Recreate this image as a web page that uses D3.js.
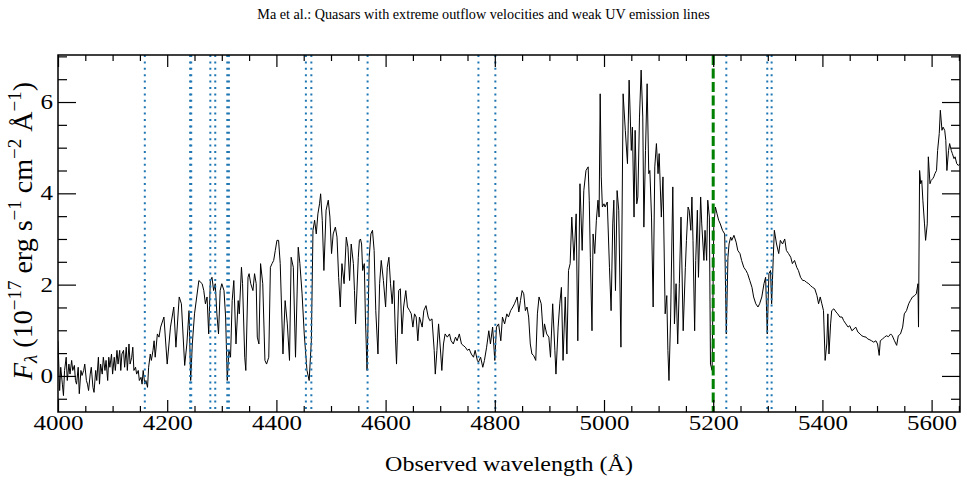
<!DOCTYPE html>
<html>
<head>
<meta charset="utf-8">
<script src="https://cdn.jsdelivr.net/npm/d3@7"></script>
<style>
  body { margin: 0; background: #fff; }
  svg text { font-family: "Liberation Serif", "Times New Roman", serif; fill: #000; }
</style>
</head>
<body>
<div id="spectrum"></div>
<script>
// observed wavelength (Angstrom) and flux (1e-17 erg/s/cm2/A)
const wavelength = [
  4000, 4003, 4005, 4008, 4010, 4012, 4015, 4017, 4020, 4022, 4025, 4027, 4030, 4032, 4034, 4037, 4039, 4042, 4044, 4047,
  4049, 4052, 4054, 4056, 4059, 4061, 4064, 4066, 4069, 4071, 4074, 4076, 4078, 4081, 4083, 4086, 4088, 4091, 4093, 4095,
  4098, 4100, 4103, 4105, 4108, 4110, 4113, 4115, 4117, 4120, 4122, 4125, 4127, 4130, 4132, 4135, 4137, 4139, 4142, 4144,
  4147, 4149, 4152, 4154, 4156, 4159, 4161, 4164, 4166, 4169, 4171, 4174, 4176, 4178, 4182, 4185, 4188, 4194, 4200, 4206,
  4212, 4216, 4222, 4226, 4232, 4236, 4240, 4243, 4246, 4250, 4258, 4264, 4267,
  4270, 4273, 4276, 4279, 4282, 4285, 4288, 4291, 4294, 4297, 4300, 4304, 4307, 4310, 4313, 4316, 4319, 4322, 4326, 4330,
  4332, 4336, 4338, 4342, 4344, 4348, 4350, 4353, 4357, 4360, 4363, 4365, 4368, 4371, 4375, 4379, 4382, 4386, 4389, 4392,
  4395, 4398, 4401, 4404, 4407, 4412, 4416, 4420, 4424, 4427, 4431, 4435, 4440, 4443, 4447, 4451, 4456, 4460, 4464, 4467,
  4470, 4473, 4476, 4479, 4481, 4484, 4487, 4491, 4495, 4498, 4501, 4504, 4508, 4511, 4514, 4517, 4520, 4524, 4528, 4531,
  4534, 4537, 4541, 4543,
  4545, 4550, 4552, 4554, 4556, 4558, 4561, 4563, 4566, 4568, 4570, 4573, 4576, 4579, 4582, 4586, 4589, 4592, 4596, 4600,
  4603, 4606, 4609, 4612, 4615, 4618, 4620, 4624, 4627, 4630, 4633, 4637, 4640, 4644, 4647, 4650, 4653, 4656, 4659, 4662,
  4667, 4670, 4674, 4678, 4681, 4685, 4689, 4691, 4694, 4697, 4701, 4703, 4706, 4709, 4713, 4717, 4720, 4724, 4728, 4731,
  4735, 4739, 4742, 4746, 4750, 4753, 4757, 4761, 4764, 4768, 4770, 4774, 4778, 4781, 4785, 4789, 4792, 4796, 4800, 4803,
  4807, 4811, 4814, 4818, 4822, 4825, 4829, 4833, 4836,
  4841, 4844, 4847, 4850, 4853, 4856, 4859, 4862, 4865, 4868, 4871, 4875, 4878, 4881, 4885, 4889, 4891, 4895, 4899, 4902,
  4906, 4910, 4912, 4916, 4919, 4922, 4925, 4929, 4932, 4935, 4938, 4941, 4945, 4949, 4952, 4956, 4960, 4963, 4967, 4971,
  4973, 4975, 4978, 4980, 4983, 4986, 4989, 4991, 4993, 4995, 4997, 5000, 5002, 5006, 5010, 5013, 5016, 5018, 5021, 5024,
  5027, 5031, 5035, 5039, 5043, 5046, 5050, 5052, 5055, 5057, 5060, 5062, 5065, 5068, 5071, 5073, 5076, 5079, 5082, 5084,
  5087, 5090, 5093, 5096, 5099, 5101, 5105, 5108,
  5112, 5115, 5117, 5119, 5122, 5126, 5129, 5132, 5135, 5138, 5141, 5145, 5149, 5151, 5154, 5156, 5159, 5161, 5163, 5166,
  5168, 5171, 5173, 5177, 5179, 5183, 5185, 5188, 5190, 5193, 5195, 5198, 5201, 5204, 5207, 5210, 5213, 5217, 5221, 5224,
  5227, 5229, 5232, 5234, 5238, 5242, 5245, 5249, 5252, 5256, 5260, 5263, 5267, 5271, 5274, 5278, 5282, 5285, 5289, 5293,
  5296, 5299, 5302, 5305, 5307, 5310, 5312, 5316, 5320, 5323, 5327, 5331, 5334, 5338, 5342, 5345, 5349, 5353, 5356, 5360,
  5364, 5367, 5371, 5375, 5378, 5382, 5386,
  5390, 5393, 5396, 5399, 5402, 5405, 5408, 5410, 5412, 5415, 5417, 5421, 5425, 5428, 5432, 5436, 5439, 5443, 5447, 5450,
  5454, 5458, 5461, 5465, 5469, 5472, 5476, 5480, 5483, 5487, 5490, 5494, 5498, 5501, 5504, 5506, 5510, 5514, 5517, 5521,
  5525, 5528, 5532, 5536, 5539, 5543, 5547, 5550, 5554, 5558, 5561, 5565, 5569, 5572, 5575, 5576, 5578, 5580, 5582, 5584,
  5587, 5589, 5592, 5594, 5597, 5599, 5602, 5604, 5606, 5609, 5611, 5614, 5616, 5619, 5621, 5624, 5626, 5628, 5631, 5633,
  5636, 5638, 5641, 5643, 5646, 5649, 5652
];
const flux = [
  0.77, -0.32, 0.19, -0.18, -0.43, 0.12, 0.41, -0.10, 0.26, 0.04, 0.34, 0.12, 0.23, -0.10, -0.18, 0.19, -0.39, 0.12, 0.01, 0.12,
  0.26, -0.10, -0.18, -0.32, 0.04, 0.19, -0.25, -0.36, 0.12, -0.10, 0.41, -0.18, 0.26, 0.04, 0.41, 0.12, 0.34, -0.10, 0.41, 0.19,
  0.48, 0.04, 0.41, 0.12, 0.56, 0.26, 0.56, 0.12, 0.48, 0.56, 0.19, 0.63, 0.12, 0.70, 0.26, 0.41, 0.63, 0.12, 0.19, 0.04,
  0.12, -0.10, -0.03, -0.18, 0.12, -0.18, -0.10, -0.25, 0.19, 0.48, 0.34, 0.56, 0.77, 0.41, 0.92, 0.85, 1.07, 1.29, 0.26, 1.07,
  1.51, 0.63, 1.73, 1.58, 0.23, 0.70, 1.43, -0.10, 0.70, 1.36, 2.09, 2.02, 1.87,
  1.58, 1.73, 0.92, 2.09, 2.16, 1.87, 2.02, 1.36, 0.92, 1.87, 2.02, 1.87, 1.29, -0.10, 0.56, 0.41, 1.65, 2.09, 0.70, 1.65,
  1.36, 2.38, 2.02, 0.41, 0.12, 2.16, 2.24, 2.02, 1.87, 2.24, 2.02, 0.85, 0.70, 2.46, 2.02, 0.34, 0.26, 0.41, 2.38, 2.46,
  2.53, 2.75, 2.97, 2.97, 2.46, 0.48, 1.65, 1.14, 0.34, 2.60, 2.38, 0.41, 2.82, 2.46, 1.80, 0.92, 0.12, -0.10, 0.77, 3.19,
  3.41, 3.11, 3.55, 3.77, 3.99, 3.41, 2.31, 3.63, 3.85, 3.48, 2.68, 3.11, 3.26, 3.04, 2.16, 1.51, 2.46, 2.02, 3.04, 2.82,
  2.09, 2.89, 2.46, 1.87,
  1.14, 2.60, 2.97, 3.00, 2.89, 2.31, 2.46, 1.29, 0.12, 1.29, 2.60, 3.11, 3.19, 2.75, 1.43, 0.48, 2.02, 2.53, 2.09, 1.51,
  2.38, 2.60, 2.02, 1.58, 2.09, 0.85, 0.26, 1.87, 1.91, 0.92, 1.51, 1.87, 1.51, 1.43, 1.36, 1.07, 1.36, 1.29, 0.77, 1.29,
  1.07, 1.43, 1.54, 1.29, 1.21, 1.25, 0.56, 0.04, 0.56, 1.14, 0.48, 0.12, 0.70, 0.92, 0.85, 0.92, 0.77, 0.70, 0.85, 0.77,
  0.92, 0.70, 0.67, 0.63, 0.56, 0.59, 0.48, 0.41, 0.56, 0.34, 0.30, 0.41, 0.19, 0.34, 0.63, 0.99, 0.70, 1.07, 0.34, 1.07,
  1.14, 0.77, 1.29, 1.14, 1.36, 1.29, 1.43, 1.51, 1.58,
  1.73, 1.40, 1.65, 1.87, 1.80, 1.43, 1.51, 1.29, 0.70, 0.48, 0.45, 0.34, 1.36, 1.73, 1.58, 0.85, 1.14, 0.92, 0.85, 0.41,
  1.58, 0.56, 0.04, 1.07, 1.58, 1.94, 0.34, 1.73, 0.48, 2.31, 2.46, 3.48, 2.53, 3.55, 0.77, 4.21, 2.75, 4.06, 4.50, 4.58,
  3.85, 2.60, 0.99, 3.11, 2.68, 3.41, 3.85, 3.48, 6.18, 4.36, 3.70, 3.77, 3.70, 3.81, 2.38, 1.43, 3.33, 3.85, 1.87, 4.06,
  3.63, 0.63, 6.18, 5.38, 4.65, 6.48, 4.94, 5.45, 3.48, 5.38, 3.77, 3.92, 5.67, 6.70, 5.67, 3.26, 4.94, 6.40, 4.43, 4.50,
  3.48, 1.51, 4.58, 5.09, 4.43, 4.87, 3.48, 4.36,
  1.36, 1.76, 0.56, -0.10, 1.29, 4.14, 1.14, 2.02, 0.70, 2.02, 3.48, 0.99, 2.38, 2.97, 3.70, 3.63, 3.19, 3.92, 2.97, 0.99,
  2.53, 3.63, 2.16, 3.92, 3.33, 2.53, 3.19, 2.53, 3.85, 3.48, 0.26, 0.12, 3.26, 3.70, 3.55, 3.41, 3.33, 3.19, 3.11, 0.92,
  2.60, 2.89, 3.04, 2.97, 3.08, 2.93, 2.75, 2.68, 2.53, 2.38, 2.31, 2.24, 2.09, 1.94, 1.73, 1.58, 1.51, 1.58, 1.73, 2.02,
  2.16, 0.92, 2.24, 2.31, 1.58, 2.60, 3.19, 2.89, 2.68, 2.97, 2.89, 3.00, 2.75, 2.68, 2.60, 2.46, 2.53, 2.38, 2.31, 2.16,
  2.09, 2.09, 2.05, 2.02, 1.98, 1.94, 1.91,
  1.76, 1.58, 1.73, 1.58, 1.43, 0.34, 0.70, 1.36, 0.48, 1.14, 1.43, 1.47, 1.40, 1.36, 1.29, 1.29, 1.21, 1.14, 1.07, 1.10,
  0.99, 1.03, 1.07, 0.96, 0.92, 0.88, 0.86, 0.85, 0.81, 0.79, 0.77, 0.74, 0.77, 0.70, 0.45, 0.77, 0.81, 0.85, 0.88, 0.86,
  0.92, 0.88, 0.77, 0.67, 0.88, 0.92, 1.07, 1.36, 1.43, 1.58, 1.65, 1.73, 1.76, 1.80, 2.02, 1.07, 4.50, 4.21, 4.28, 3.85,
  3.33, 2.97, 3.33, 4.80, 4.21, 4.28, 4.32, 4.36, 4.43, 4.50, 4.94, 5.31, 5.82, 5.38, 5.45, 5.38, 5.16, 4.50, 4.94, 5.09,
  4.94, 4.87, 4.76, 4.80, 4.65, 4.61, 4.65
];
// marked absorption wavelengths (dotted blue) and the dashed green reference line
const absorptionLines = [4159, 4242, 4244, 4279, 4288, 4310, 4313, 4454, 4464, 4567, 4770, 4801, 5224, 5299, 5307];
const referenceLine = 5200;
const xTickLabels = [4000, 4200, 4400, 4600, 4800, 5000, 5200, 5400, 5600];
const yTickLabels = [0, 2, 4, 6];

const W = 967, H = 480;
const margin = { top: 55, right: 7, bottom: 68, left: 58 };
const width = W - margin.left - margin.right;
const height = H - margin.top - margin.bottom;
const stretch = 1.25; // tick text in the original is a bit wide

const svg = d3.select("#spectrum")
    .append("svg")
    .attr("width", W)
    .attr("height", H);

svg.append("text")
    .attr("x", W / 2)
    .attr("y", 19)
    .attr("text-anchor", "middle")
    .style("font-size", "14.2px")
    .text("Ma et al.: Quasars with extreme outflow velocities and weak UV emission lines");

const g = svg.append("g")
    .attr("transform", "translate(" + margin.left + "," + margin.top + ")");

const x = d3.scaleLinear().domain([4000, 5652]).range([0, width]);
const y = d3.scaleLinear().domain([-0.79, 7.03]).range([height, 0]);

g.append("clipPath").attr("id", "plot-clip")
    .append("rect").attr("width", width).attr("height", height);

const points = wavelength.map((w, i) => [w, flux[i]]);

const line = d3.line()
    .x(d => x(d[0]))
    .y(d => y(d[1]));

g.append("path")
    .datum(points)
    .attr("clip-path", "url(#plot-clip)")
    .attr("fill", "none")
    .attr("stroke", "#000")
    .attr("stroke-width", 1)
    .attr("stroke-linejoin", "round")
    .attr("d", line);

// vertical markers
g.selectAll(".abs-line")
    .data(absorptionLines)
    .join("line")
    .attr("class", "abs-line")
    .attr("x1", d => x(d)).attr("x2", d => x(d))
    .attr("y1", 0).attr("y2", height)
    .attr("stroke", "#1f77b4")
    .attr("stroke-width", 2)
    .attr("stroke-dasharray", "2,4.4");

g.append("line")
    .attr("x1", x(referenceLine)).attr("x2", x(referenceLine))
    .attr("y1", 0).attr("y2", height)
    .attr("stroke", "#008000")
    .attr("stroke-width", 3)
    .attr("stroke-dasharray", "10,3.5");

// ticks, all pointing inwards
const xMinor = d3.range(4050, 5651, 50).filter(v => v % 200 !== 0);
const yMinor = d3.range(-0.5, 7.01, 0.5).filter(v => v % 2 !== 0);

function addAxis(axis, tx, ty) {
    const a = g.append("g")
        .attr("transform", "translate(" + tx + "," + ty + ")")
        .attr("font-family", null)
        .attr("font-size", null)
        .call(axis);
    a.select(".domain").remove();
    a.selectAll(".tick line").attr("stroke", "#000").attr("stroke-width", 1.2);
    return a;
}

const xBottom = addAxis(d3.axisBottom(x).tickValues(xTickLabels).tickSize(-12).tickPadding(4).tickFormat(d3.format("d")), 0, height);
xBottom.selectAll("text")
    .attr("transform", "scale(" + stretch + ",1)")
    .style("font-size", "20px");
addAxis(d3.axisBottom(x).tickValues(xMinor).tickSize(-6).tickFormat(""), 0, height);
addAxis(d3.axisTop(x).tickValues(xTickLabels).tickSize(-12).tickFormat(""), 0, 0);
addAxis(d3.axisTop(x).tickValues(xMinor).tickSize(-6).tickFormat(""), 0, 0);

const yLeft = addAxis(d3.axisLeft(y).tickValues(yTickLabels).tickSize(-18).tickPadding(4).tickFormat(d3.format("d")), 0, 0);
yLeft.selectAll("text")
    .attr("transform", "scale(" + stretch + ",1)")
    .style("font-size", "20px");
addAxis(d3.axisLeft(y).tickValues(yMinor).tickSize(-9).tickFormat(""), 0, 0);
addAxis(d3.axisRight(y).tickValues(yTickLabels).tickSize(-18).tickFormat(""), width, 0);
addAxis(d3.axisRight(y).tickValues(yMinor).tickSize(-9).tickFormat(""), width, 0);

// frame
g.append("rect")
    .attr("width", width)
    .attr("height", height)
    .attr("fill", "none")
    .attr("stroke", "#000")
    .attr("stroke-width", 1.5);

// axis labels
svg.append("text")
    .attr("transform", "translate(" + (margin.left + width / 2) + ",471) scale(1.2,1)")
    .attr("text-anchor", "middle")
    .style("font-size", "20px")
    .text("Observed wavelength (Å)");

const yLabel = svg.append("text")
    .attr("transform", "translate(32,231) rotate(-90)")
    .attr("text-anchor", "middle")
    .style("font-size", "28px");
yLabel.append("tspan").style("font-style", "italic").text("F");
yLabel.append("tspan").attr("dy", 5).style("font-style", "italic").style("font-size", "19px").text("λ");
yLabel.append("tspan").attr("dy", -5).text(" (10");
yLabel.append("tspan").attr("dy", -11).style("font-size", "19px").text("−17");
yLabel.append("tspan").attr("dy", 11).text(" erg s");
yLabel.append("tspan").attr("dy", -11).style("font-size", "19px").text("−1");
yLabel.append("tspan").attr("dy", 11).text(" cm");
yLabel.append("tspan").attr("dy", -11).style("font-size", "19px").text("−2");
yLabel.append("tspan").attr("dy", 11).text(" Å");
yLabel.append("tspan").attr("dy", -11).style("font-size", "19px").text("−1");
yLabel.append("tspan").attr("dy", 11).text(")");
</script>
</body>
</html>
